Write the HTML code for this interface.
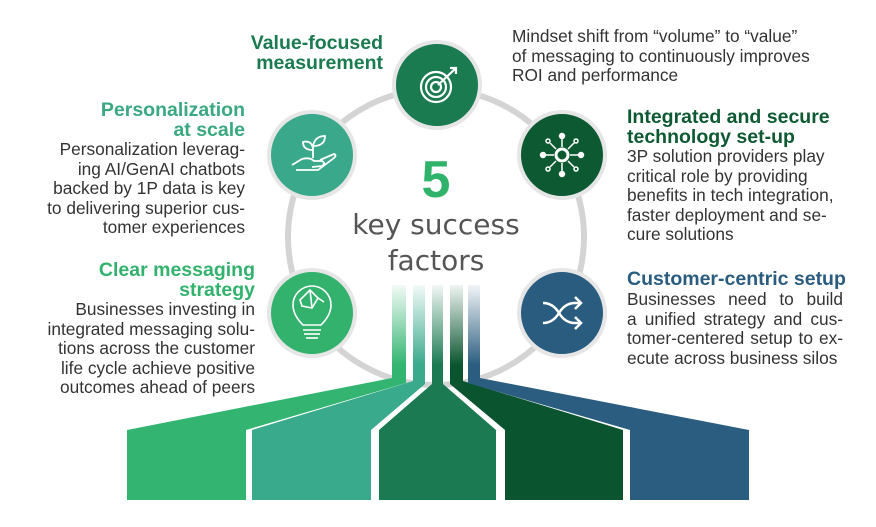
<!DOCTYPE html>
<html><head><meta charset="utf-8"><style>
html,body{margin:0;padding:0;background:#fff;}
#w{position:relative;width:876px;height:527px;overflow:hidden;font-family:"Liberation Sans",Arial,sans-serif;}
.t{position:absolute;font-size:17.3px;line-height:19.6px;color:#333;white-space:nowrap;}
.h{font-weight:bold;font-size:19.5px;line-height:19.5px;}
.j{position:absolute;font-size:17.3px;line-height:19.6px;color:#333;text-align:justify;text-align-last:justify;width:216px;left:627px;white-space:normal;}
svg{position:absolute;left:0;top:0;}
</style></head><body><div id="w">
<svg width="876" height="527" viewBox="0 0 876 527">
<defs>
<linearGradient id="fade" x1="0" y1="0" x2="0" y2="1">
<stop offset="0" stop-color="#fff" stop-opacity="1"/>
<stop offset="1" stop-color="#fff" stop-opacity="0"/>
</linearGradient>
</defs>
<circle cx="436" cy="237" r="148" fill="none" stroke="#d4d4d4" stroke-width="6"/>
<polygon points="127,500 246,500 246,430 406,383 406,285 392,285 392,378 127,430" fill="#33b571"/>
<polygon points="252,500 371,500 371,430 425,384 425,285 413,285 413,381 252,430" fill="#3aaa8c"/>
<polygon points="379,500 496,500 496,430 443,384 443,285 432,285 432,384 379,430" fill="#1b7a52"/>
<polygon points="505,500 623,500 623,430 463,381 463,285 450,285 450,384 505,430" fill="#0a5530"/>
<polygon points="630,500 749,500 749,430 480,378 480,285 468,285 468,383 630,430" fill="#2a5d80"/>
<rect x="385" y="280" width="105" height="85" fill="url(#fade)"/>
<g stroke="#e6e6e6" stroke-width="4">
<circle cx="437" cy="85" r="43" fill="#1a7a50"/>
<circle cx="312" cy="155" r="43" fill="#3aa88a"/>
<circle cx="562" cy="155" r="43" fill="#0d5a32"/>
<circle cx="312" cy="313" r="43" fill="#33b26e"/>
<circle cx="562" cy="313" r="43" fill="#2a5c80"/>
</g>
<g fill="none" stroke="#fff" stroke-width="2.2">
<circle cx="436" cy="87" r="15"/><circle cx="436" cy="87" r="10"/><circle cx="436" cy="87" r="5"/>
<line x1="438" y1="85" x2="455" y2="69"/><path d="M450 68 l6 0 l0 6"/>
</g>
<g fill="none" stroke="#fff" stroke-width="1.8">
<path d="M292 165 l10 -6 q8 -2 12 2 l8 0 q4 2 0 5 l-10 1 M296 170 l22 0 l16 -12 q3 -3 0 -4 l-14 6"/>
<path d="M313 158 l0 -14 M313 150 q-10 0 -10 -8 q8 -2 10 6 M313 146 q2 -10 12 -10 q0 10 -12 10"/>
</g>
<g fill="#fff" stroke="#fff" stroke-width="1.5">
<circle cx="562" cy="155" r="6" fill="none" stroke-width="3"/>
<line x1="545" y1="155" x2="554" y2="155"/><line x1="570" y1="155" x2="579" y2="155"/>
<line x1="562" y1="138" x2="562" y2="147"/><line x1="562" y1="163" x2="562" y2="172"/>
<line x1="550" y1="143" x2="556" y2="149"/><line x1="574" y1="143" x2="568" y2="149"/>
<line x1="550" y1="167" x2="556" y2="161"/><line x1="574" y1="167" x2="568" y2="161"/>
<circle cx="543" cy="155" r="2.5"/><circle cx="581" cy="155" r="2.5"/><circle cx="562" cy="136" r="2.5"/><circle cx="562" cy="174" r="2.5"/>
<circle cx="548" cy="141" r="2" fill="none"/><circle cx="576" cy="141" r="2" fill="none"/><circle cx="548" cy="169" r="2" fill="none"/><circle cx="576" cy="169" r="2" fill="none"/>
</g>
<g fill="none" stroke="#fff" stroke-width="1.6">
<path d="M303 325 q-10 -10 -10 -20 a19 19 0 0 1 38 0 q0 10 -10 20 z"/>
<line x1="303" y1="330" x2="321" y2="330"/><line x1="304" y1="334" x2="320" y2="334"/><line x1="306" y1="338" x2="318" y2="338"/>
<path d="M300 300 l10 -10 l8 8 l-6 10 l-10 -2 z M310 290 l2 18 M318 298 l6 4"/>
</g>
<g fill="none" stroke="#fff" stroke-width="2.5">
<path d="M543 303 q10 0 16 10 q6 10 16 10 l6 0 M543 323 q10 0 16 -10 q6 -10 16 -10 l6 0"/>
<path d="M575 297 l6 6 l-6 6 M575 317 l6 6 l-6 6"/>
</g>
<text x="436" y="197" text-anchor="middle" font-family="Liberation Sans,sans-serif" font-weight="bold" font-size="52" fill="#2fb36a">5</text>
<text x="436" y="234" text-anchor="middle" font-family="DejaVu Sans,sans-serif" font-size="28" fill="#555">key success</text>
<text x="436" y="270" text-anchor="middle" font-family="DejaVu Sans,sans-serif" font-size="28" fill="#555">factors</text>
</svg>

<div class="t h" style="left:200px;top:34px;width:183px;text-align:right;color:#1a7a50">Value-focused<br>measurement</div>
<div class="t" style="left:512px;top:27px;">Mindset shift from “volume” to “value”<br>of messaging to continuously improves<br>ROI and performance</div>

<div class="t h" style="left:20px;top:101px;width:225px;text-align:right;color:#3aa880">Personalization<br>at scale</div>
<div class="t" style="left:0px;top:140px;width:245px;text-align:right;">Personalization leverag-<br>ing AI/GenAI chatbots<br>backed by 1P data is key<br>to delivering superior cus-<br>tomer experiences</div>

<div class="t h" style="left:20px;top:261px;width:235px;text-align:right;color:#33b26e">Clear messaging<br>strategy</div>
<div class="t" style="left:0px;top:300px;width:255px;text-align:right;">Businesses investing in<br>integrated messaging solu-<br>tions across the customer<br>life cycle achieve positive<br>outcomes ahead of peers</div>

<div class="t h" style="left:627px;top:108px;color:#0d5a32">Integrated and secure<br>technology set-up</div>
<div class="t" style="left:627px;top:147px;">3P solution providers play<br>critical role by providing<br>benefits in tech integration,<br>faster deployment and se-<br>cure solutions</div>

<div class="t h" style="left:627px;top:270px;color:#2a5c80">Customer-centric setup</div>
<div class="j" style="top:290px;">Businesses need to build</div>
<div class="j" style="top:310px;">a unified strategy and cus-</div>
<div class="j" style="top:329px;">tomer-centered setup to ex-</div>
<div class="t" style="left:627px;top:349px;">ecute across business silos</div>
</div></body></html>
